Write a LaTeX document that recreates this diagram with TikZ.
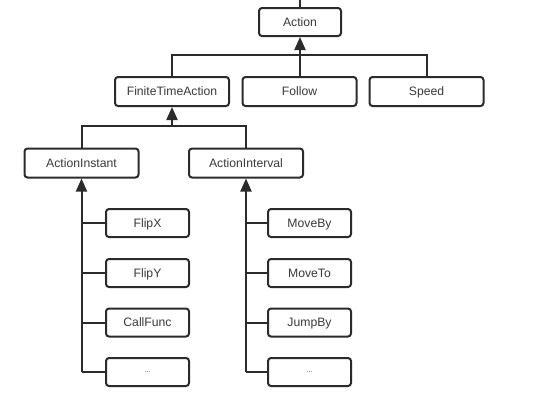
\documentclass[tikz,border=0pt]{standalone}
\usepackage{fontspec}
\setmainfont{Liberation Sans}
\usetikzlibrary{arrows.meta}
\definecolor{ln}{HTML}{2B2B2B}
\definecolor{tx}{HTML}{3A3A3A}
\begin{document}
\begin{tikzpicture}[x=1pt,y=-1pt,
  cls/.style={draw=ln,line width=2pt,rounded corners=3pt,fill=white,inner sep=0pt,
    font=\fontsize{12.2}{14}\selectfont,text=tx,text height=8.7pt,text depth=0pt},
  wide/.style={cls,minimum width=114pt,minimum height=29pt},
  small/.style={cls,minimum width=83pt,minimum height=28pt},
  link/.style={draw=ln,line width=2pt},
  inh/.style={link,-{Triangle[length=13pt,width=11pt]}}]
\useasboundingbox (0,0) rectangle (545,400);
\node[cls,minimum width=82pt,minimum height=28pt] (action) at (300,22) {Action};
\node[wide] (fta) at (172,91.5) {FiniteTimeAction};
\node[wide] (follow) at (299.5,91.5) {Follow};
\node[wide] (speed) at (426.5,91.5) {Speed};
\node[wide] (inst) at (81.5,163) {ActionInstant};
\node[wide] (intv) at (246,163) {ActionInterval};
\node[small] (fx) at (147.5,223) {FlipX};
\node[small] (fy) at (147.5,273) {FlipY};
\node[small] (cf) at (147.5,322.5) {CallFunc};
\node[small,text height=1pt] (d1) at (147.5,372) {\fontsize{7}{8}\selectfont ...};
\node[small] (mb) at (309.5,223) {MoveBy};
\node[small] (mt) at (309.5,273) {MoveTo};
\node[small] (jb) at (309.5,322.5) {JumpBy};
\node[small,text height=1pt] (d2) at (309.5,372) {\fontsize{7}{8}\selectfont ...};
\coordinate (top) at (300,0);
\draw[link] (top) -- (action.north);
% Action children
\coordinate (b1) at (300,55);
\draw[link] (fta.north) |- (b1) -| (speed.north);
\draw[inh] (follow.north -| action.south) -- (action.south);
% FiniteTimeAction children
\coordinate (b2) at (172,126);
\draw[link] (inst.north) |- (b2) -| (intv.north);
\draw[inh] (b2) -- (fta.south);
% ActionInstant children
\draw[inh] (d1.west -| inst.south) -- (inst.south);
\foreach \n in {fx,fy,cf,d1} \draw[link] (\n.west -| inst.south) -- (\n.west);
\draw[inh] (d2.west -| intv.south) -- (intv.south);
\foreach \n in {mb,mt,jb,d2} \draw[link] (\n.west -| intv.south) -- (\n.west);
\end{tikzpicture}
\end{document}
